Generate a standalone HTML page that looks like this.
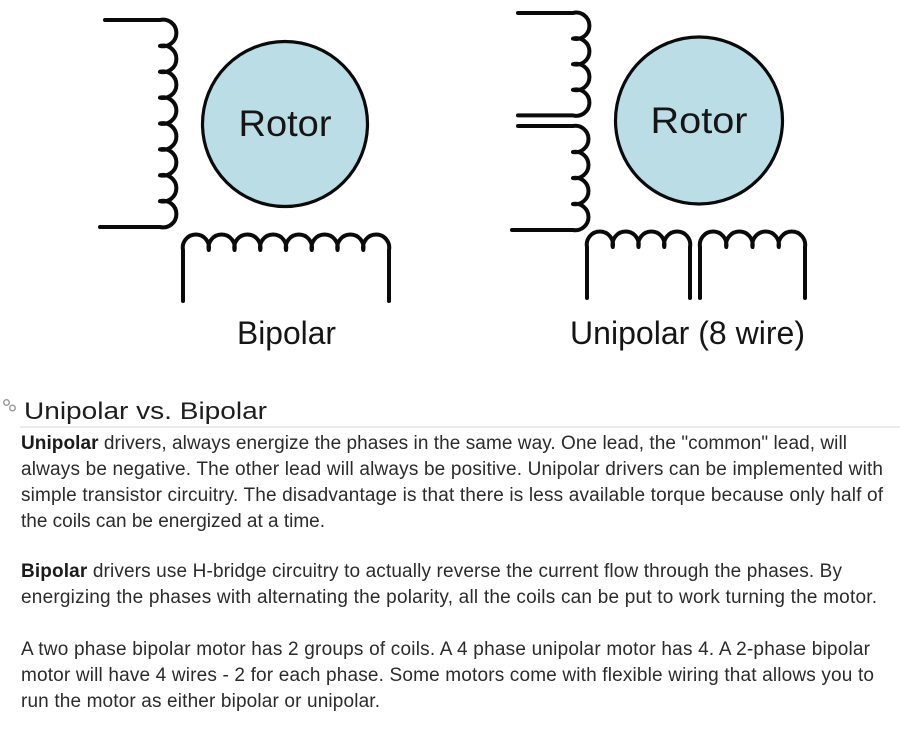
<!DOCTYPE html>
<html><head><meta charset="utf-8"><style>
html,body{margin:0;padding:0;background:#fff;}
svg{display:block;}
.b{font-family:"Liberation Sans",Arial,sans-serif;font-size:19px;fill:#2b2b2b;}
.b tspan.s{font-weight:bold;fill:#1a1a1a;}
</style></head><body>
<svg width="900" height="734" viewBox="0 0 900 734" xmlns="http://www.w3.org/2000/svg">
<rect width="900" height="734" fill="#fff"/>
<g fill="none" stroke="#0a0a0a" stroke-width="4" stroke-linecap="round" stroke-linejoin="round">
<!-- Bipolar vertical coil -->
<path d="M105,20 H160 a13.3 13.3 0 1 1 0 25.875 a13.3 13.3 0 1 1 0 25.875 a13.3 13.3 0 1 1 0 25.875 a13.3 13.3 0 1 1 0 25.875 a13.3 13.3 0 1 1 0 25.875 a13.3 13.3 0 1 1 0 25.875 a13.3 13.3 0 1 1 0 25.875 a13.3 13.3 0 1 1 0 25.875 H100"/>
<!-- Bipolar horizontal coil -->
<path d="M183,301 V250 a13.1 13.1 0 1 1 25.75 0 a13.1 13.1 0 1 1 25.75 0 a13.1 13.1 0 1 1 25.75 0 a13.1 13.1 0 1 1 25.75 0 a13.1 13.1 0 1 1 25.75 0 a13.1 13.1 0 1 1 25.75 0 a13.1 13.1 0 1 1 25.75 0 a13.1 13.1 0 1 1 25.75 0 V301"/>
<!-- Unipolar vertical coils -->
<path d="M518,13 H573 a13.2 13.2 0 1 1 0 25.6 a13.2 13.2 0 1 1 0 25.6 a13.2 13.2 0 1 1 0 25.6 a13.2 13.2 0 1 1 0 25.6 H518"/>
<path d="M518,126 H573 a13.2 13.2 0 1 1 0 26 a13.2 13.2 0 1 1 0 26 a13.2 13.2 0 1 1 0 26 a13.2 13.2 0 1 1 0 26 H512"/>
<!-- Unipolar horizontal coils -->
<path d="M587,298 V247 a13.1 13.1 0 1 1 25.75 0 a13.1 13.1 0 1 1 25.75 0 a13.1 13.1 0 1 1 25.75 0 a13.1 13.1 0 1 1 25.75 0 V298"/>
<path d="M700,298 V247 a13.3 13.3 0 1 1 26.25 0 a13.3 13.3 0 1 1 26.25 0 a13.3 13.3 0 1 1 26.25 0 a13.3 13.3 0 1 1 26.25 0 V298"/>
</g>
<!-- Rotors -->
<circle cx="285" cy="124" r="82.5" fill="#bbdde6" stroke="#0a0a0a" stroke-width="3.2"/>
<circle cx="699" cy="120.5" r="83.5" fill="#bbdde6" stroke="#0a0a0a" stroke-width="3.2"/>
<g font-family="'Liberation Sans',Arial,sans-serif" fill="#151515">
<text x="285" y="136" font-size="37" text-anchor="middle" textLength="93" lengthAdjust="spacingAndGlyphs">Rotor</text>
<text x="699" y="133" font-size="37" text-anchor="middle" textLength="97" lengthAdjust="spacingAndGlyphs">Rotor</text>
<text x="237" y="344" font-size="32" textLength="99" lengthAdjust="spacingAndGlyphs">Bipolar</text>
<text x="570" y="344" font-size="32" textLength="235" lengthAdjust="spacingAndGlyphs">Unipolar (8 wire)</text>
</g>
<!-- link icon -->
<g fill="none" stroke="#9a9a9a" stroke-width="1.4">
<circle cx="6.5" cy="402.5" r="2.8"/>
<circle cx="12.5" cy="408" r="2.8"/>
</g>
<text x="24" y="419" font-family="'Liberation Sans',Arial,sans-serif" font-size="24" fill="#1e1e1e" textLength="243" lengthAdjust="spacingAndGlyphs">Unipolar vs. Bipolar</text>
<rect x="20" y="426" width="880" height="2" fill="#ececec"/>
<!-- Body -->
<text class="b" x="21" y="449" textLength="826" lengthAdjust="spacing"><tspan class="s">Unipolar</tspan> drivers, always energize the phases in the same way. One lead, the "common" lead, will</text>
<text class="b" x="21" y="475" textLength="862" lengthAdjust="spacing">always be negative. The other lead will always be positive. Unipolar drivers can be implemented with</text>
<text class="b" x="21" y="501" textLength="862" lengthAdjust="spacing">simple transistor circuitry. The disadvantage is that there is less available torque because only half of</text>
<text class="b" x="21" y="527" textLength="304" lengthAdjust="spacing">the coils can be energized at a time.</text>
<text class="b" x="21" y="577" textLength="821" lengthAdjust="spacing"><tspan class="s">Bipolar</tspan> drivers use H-bridge circuitry to actually reverse the current flow through the phases. By</text>
<text class="b" x="21" y="603" textLength="856" lengthAdjust="spacing">energizing the phases with alternating the polarity, all the coils can be put to work turning the motor.</text>
<text class="b" x="21" y="655" textLength="849" lengthAdjust="spacing">A two phase bipolar motor has 2 groups of coils. A 4 phase unipolar motor has 4. A 2-phase bipolar</text>
<text class="b" x="21" y="681" textLength="853" lengthAdjust="spacing">motor will have 4 wires - 2 for each phase. Some motors come with flexible wiring that allows you to</text>
<text class="b" x="21" y="707" textLength="359" lengthAdjust="spacing">run the motor as either bipolar or unipolar.</text>
</svg>
</body></html>
